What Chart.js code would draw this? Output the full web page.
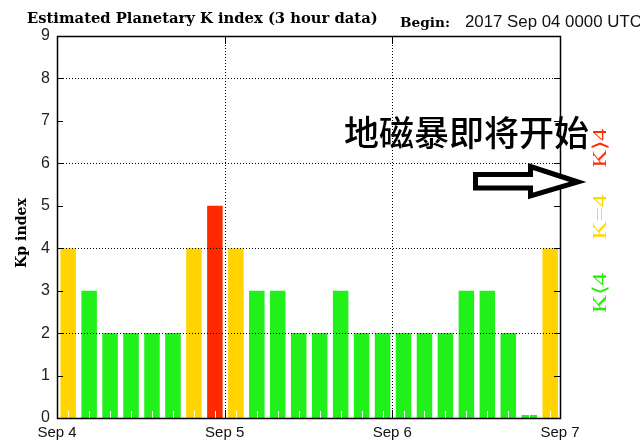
<!DOCTYPE html>
<html>
<head>
<meta charset="utf-8">
<script src="https://cdn.jsdelivr.net/npm/chart.js@4/dist/chart.umd.min.js"></script>
<style>
html,body{margin:0;padding:0;background:#fff;}
canvas{display:block;}
</style>
</head>
<body>
<canvas id="c" width="640" height="444"></canvas>
<script>
// ---- data ----
const slotStartHours = [0,3,6,9,12,15,18,21,24,27,30,33,36,39,42,45,48,51,54,57,60,63,66,69];
const kpValues = [4,3,2,2,2,2,4,5,4,3,3,2,2,3,2,2,2,2,2,3,3,2,0,4];
const dayTickLabels = ['Sep 4','Sep 5','Sep 6','Sep 7'];
const yTickLabels = ['0','1','2','3','4','5','6','7','8','9'];
const chartTitle = 'Estimated Planetary K index (3 hour data)';
const beginLabel = 'Begin:';
const beginValue = '2017 Sep 04 0000 UTC';
const yAxisTitle = 'Kp index';
const annotationText = '地磁暴即将开始';
const legendLabels = ['K⟩4','K=4','K⟨4'];

const RED = '#ff2a00', YELLOW = '#ffd400', GREEN = '#22f01a';
function colorFor(v){ return v > 4 ? RED : (v === 4 ? YELLOW : GREEN); }

const points = slotStartHours.map((h,i)=>({x: h + 1.6, y: kpValues[i]}));

function fitFont(ctx, text, style, family, target){
  ctx.font = style + ' 20px ' + family;
  const w = ctx.measureText(text).width;
  return 20 * target / w;
}

const overlay = {
  id: 'overlay',
  afterDatasetsDraw(chart){
    const {ctx, chartArea:a, scales:{x,y}} = chart;
    ctx.save();
    // white minor ticks at slot centers
    ctx.strokeStyle = '#fff';
    ctx.lineWidth = 1;
    points.forEach(p=>{
      const px = Math.round(x.getPixelForValue(p.x)) + 0.5;
      ctx.beginPath(); ctx.moveTo(px, a.bottom); ctx.lineTo(px, a.bottom - 7); ctx.stroke();
    });
    // dotted grid
    ctx.strokeStyle = '#000';
    ctx.setLineDash([1,2]);
    [2,4,6,8].forEach(v=>{
      const py = Math.round(y.getPixelForValue(v)) + 0.5;
      ctx.beginPath(); ctx.moveTo(a.left, py); ctx.lineTo(a.right, py); ctx.stroke();
    });
    [24,48].forEach(v=>{
      const px = Math.round(x.getPixelForValue(v)) + 0.5;
      ctx.beginPath(); ctx.moveTo(px, a.top); ctx.lineTo(px, a.bottom); ctx.stroke();
    });
    ctx.setLineDash([]);
    // inner ticks
    for (let v=1; v<9; v++){
      const py = Math.round(y.getPixelForValue(v)) + 0.5;
      ctx.beginPath(); ctx.moveTo(a.left, py); ctx.lineTo(a.left+6, py); ctx.stroke();
      ctx.beginPath(); ctx.moveTo(a.right, py); ctx.lineTo(a.right-6, py); ctx.stroke();
    }
    [24,48].forEach(v=>{
      const px = Math.round(x.getPixelForValue(v)) + 0.5;
      ctx.beginPath(); ctx.moveTo(px, a.bottom); ctx.lineTo(px, a.bottom-8); ctx.stroke();
      ctx.beginPath(); ctx.moveTo(px, a.top); ctx.lineTo(px, a.top+8); ctx.stroke();
    });
    // frame
    ctx.lineWidth = 1.5;
    ctx.strokeRect(Math.round(a.left)+0.5, Math.round(a.top)+0.5, Math.round(a.right-a.left), Math.round(a.bottom-a.top));
    ctx.restore();
  },
  afterDraw(chart){
    const {ctx, chartArea:a} = chart;
    ctx.save();
    ctx.fillStyle = '#000';
    // title
    let fs = fitFont(ctx, chartTitle, 'bold', '"DejaVu Serif"', 351);
    ctx.font = 'bold ' + fs + 'px "DejaVu Serif"';
    ctx.textBaseline = 'alphabetic';
    ctx.textAlign = 'left';
    ctx.fillText(chartTitle, 27, 23);
    fs = fitFont(ctx, beginLabel, 'bold', '"DejaVu Serif"', 50);
    ctx.font = 'bold ' + fs + 'px "DejaVu Serif"';
    ctx.fillText(beginLabel, 400, 27);
    fs = fitFont(ctx, beginValue, 'normal', '"Liberation Sans"', 177);
    ctx.font = fs + 'px "Liberation Sans"';
    ctx.fillStyle = '#111';
    ctx.fillText(beginValue, 465, 27);
    // y axis title
    ctx.fillStyle = '#000';
    ctx.save();
    ctx.translate(22, 233);
    ctx.rotate(-Math.PI/2);
    fs = fitFont(ctx, yAxisTitle, 'bold', '"DejaVu Serif"', 70);
    ctx.font = 'bold ' + fs + 'px "DejaVu Serif"';
    ctx.textAlign = 'center';
    ctx.textBaseline = 'middle';
    ctx.fillText(yAxisTitle, 0, 0);
    ctx.restore();
    // chinese annotation
    ctx.font = '500 35px "Noto Sans CJK SC"';
    ctx.textAlign = 'left';
    ctx.textBaseline = 'middle';
    ctx.fillText(annotationText, 344, 133);
    // arrow
    ctx.beginPath();
    ctx.moveTo(475.5, 174.5);
    ctx.lineTo(530.5, 174.5);
    ctx.lineTo(530.5, 166.5);
    ctx.lineTo(578, 182);
    ctx.lineTo(530.5, 196);
    ctx.lineTo(530.5, 188);
    ctx.lineTo(475.5, 188);
    ctx.closePath();
    ctx.fillStyle = '#fff';
    ctx.fill();
    ctx.lineWidth = 5;
    ctx.lineJoin = 'miter';
    ctx.strokeStyle = '#000';
    ctx.stroke();
    // K legend labels
    const legendColors = [RED, '#ffd800', '#22ee00'];
    const legendY = [148, 217, 293];
    const legendLen = [39, 45, 40];
    legendLabels.forEach((t,i)=>{
      ctx.save();
      ctx.translate(601, legendY[i]);
      ctx.rotate(-Math.PI/2);
      ctx.font = '19px "Liberation Serif"';
      const w = ctx.measureText(t).width;
      ctx.scale(legendLen[i]/w, 1);
      ctx.fillStyle = legendColors[i];
      ctx.textAlign = 'center';
      ctx.textBaseline = 'middle';
      ctx.fillText(t, 0, 0);
      ctx.restore();
    });
    ctx.restore();
  }
};

new Chart(document.getElementById('c'), {
  type: 'bar',
  data: {
    datasets: [{
      data: points,
      backgroundColor: kpValues.map(colorFor),
      borderWidth: 0,
      minBarLength: 3,
      barPercentage: 0.74,
      categoryPercentage: 1.0
    }]
  },
  options: {
    responsive: false,
    animation: false,
    devicePixelRatio: 1,
    layout: { padding: { top: 36, right: 80, left: 0, bottom: 0 } },
    plugins: { legend: { display: false }, tooltip: { enabled: false } },
    scales: {
      x: {
        type: 'linear', min: 0, max: 72, offset: false,
        grid: { display: false, drawTicks: false },
        border: { display: false },
        ticks: {
          stepSize: 24, padding: 6, maxRotation: 0, autoSkip: false,
          color: '#111', font: { family: '"Liberation Sans"', size: 15 },
          callback: v => dayTickLabels[v/24]
        },
        afterFit: s => { s.height = 26; }
      },
      y: {
        min: 0, max: 9,
        grid: { display: false, drawTicks: false },
        border: { display: false },
        ticks: {
          stepSize: 1, padding: 7,
          color: '#222', font: { family: '"Liberation Sans"', size: 16 },
          callback: v => yTickLabels[v]
        },
        afterFit: s => { s.width = 57; }
      }
    }
  },
  plugins: [overlay]
});
</script>
</body>
</html>
